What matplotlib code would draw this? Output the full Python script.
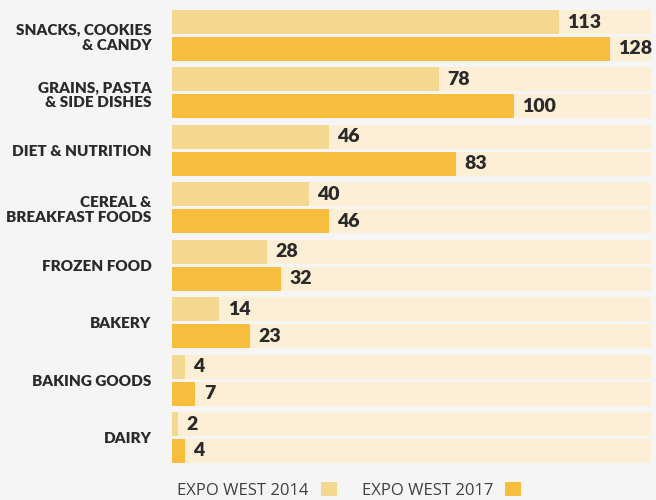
import numpy as np
import matplotlib.pyplot as plt
from matplotlib.patches import Patch

categories = ["SNACKS, COOKIES\n& CANDY", "GRAINS, PASTA\n& SIDE DISHES", "DIET & NUTRITION",
              "CEREAL &\nBREAKFAST FOODS", "FROZEN FOOD", "BAKERY", "BAKING GOODS", "DAIRY"]
expo_2014 = [113, 78, 46, 40, 28, 14, 4, 2]
expo_2017 = [128, 100, 83, 46, 32, 23, 7, 4]
series_names = ["EXPO WEST 2014", "EXPO WEST 2017"]

bg = "#f5f5f5"
band = "#fdefd6"
c14 = "#f5d88f"
c17 = "#f9bd3d"
txt = "#2a2a2a"

W, H = 656, 500
fig = plt.figure(figsize=(W / 100, H / 100), dpi=100, facecolor=bg)
# axes box in pixels: x 171.5..651, y 10..463
ax = fig.add_axes([171.5 / W, 1 - 463 / H, (651 - 171.5) / W, (463 - 10) / H])
ax.set_facecolor(bg)

xmax = 140
bh = 0.418      # bar height (group pitch = 1)
step = 0.47     # offset of second bar in a group
idx = np.arange(len(categories))
y14 = idx + bh / 2
y17 = idx + step + bh / 2

# cream background bands, one per bar
ax.barh(y14, xmax, height=bh, color=band, zorder=1)
ax.barh(y17, xmax, height=bh, color=band, zorder=1)
b1 = ax.barh(y14, expo_2014, height=bh, color=c14, zorder=2)
b2 = ax.barh(y17, expo_2017, height=bh, color=c17, zorder=2)

for bars, vals in ((b1, expo_2014), (b2, expo_2017)):
    ax.bar_label(bars, labels=[str(v) for v in vals], padding=6, fontsize=14,
                 fontweight="heavy", color=txt, family="Lato")

ax.set_xlim(0, xmax)
ax.set_ylim(idx[-1] + step + bh, 0)
ax.set_yticks(idx + (step + bh) / 2)
ax.set_yticklabels(categories, fontsize=11, fontweight="heavy", color=txt,
                   family="Lato", linespacing=1.2)
ax.tick_params(axis="y", length=0, pad=14.4)
ax.set_xticks([])
for s in ax.spines.values():
    s.set_visible(False)

handles = [Patch(facecolor=c14), Patch(facecolor=c17)]
fig.legend(handles, series_names, loc="lower left", bbox_to_anchor=(169 / W, -7 / H),
           ncol=2, frameon=False, markerfirst=False,
           prop={"family": "Open Sans", "size": 12},
           handlelength=0.96, handleheight=0.96, handletextpad=0.7,
           columnspacing=1.5, borderpad=0, labelcolor="#404040")

fig.savefig("out.png", dpi=100, facecolor=bg)
